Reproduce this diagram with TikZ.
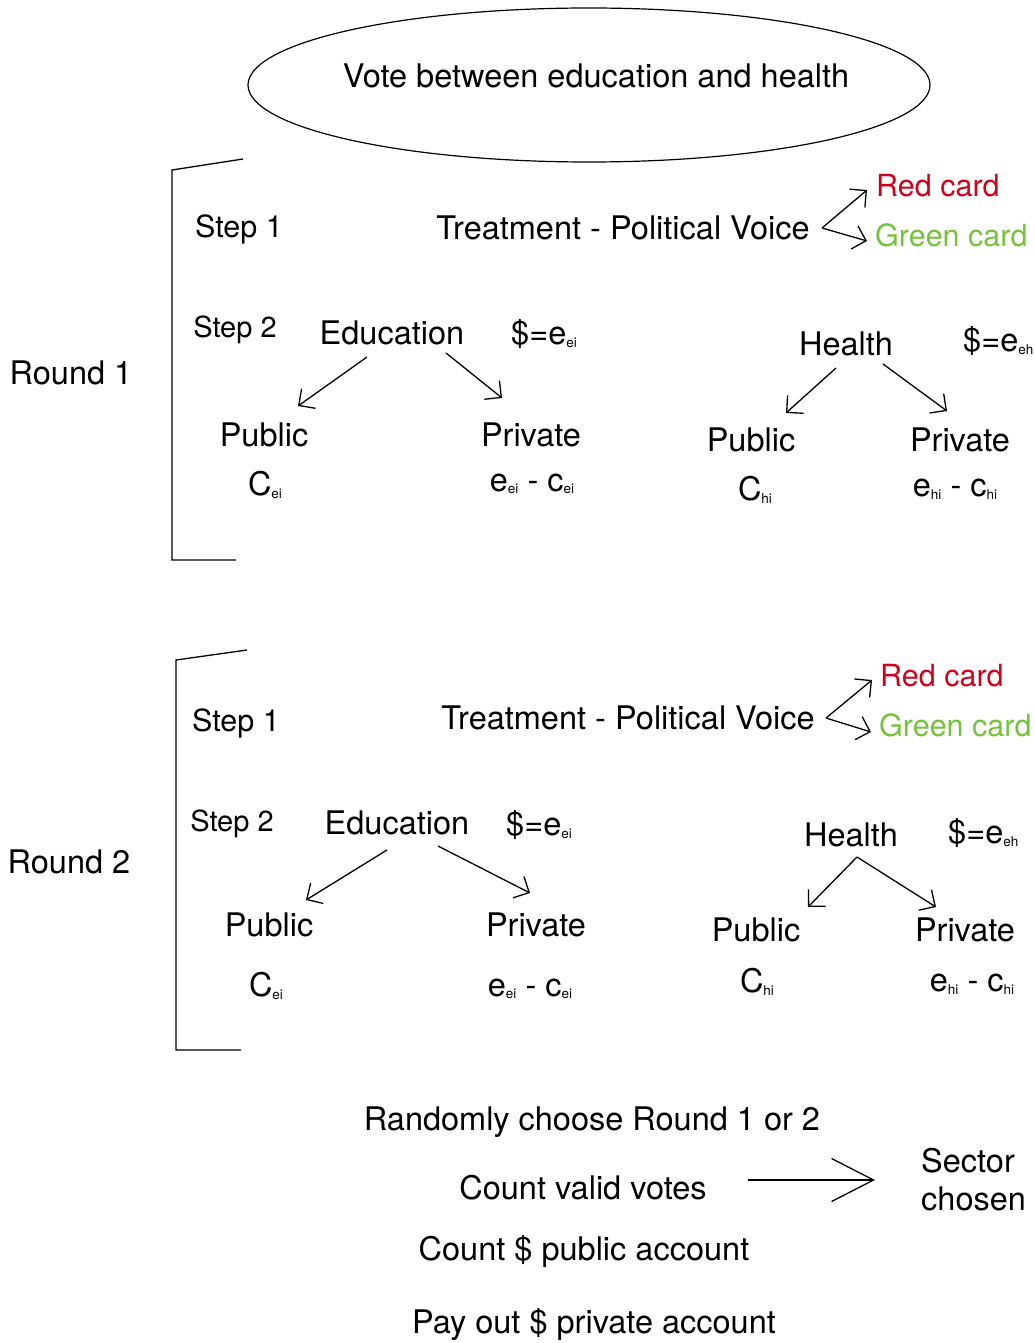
\documentclass[tikz,border=0pt]{standalone}
\usepackage{fontspec}
\setmainfont{TeX Gyre Heros}
\usetikzlibrary{arrows.meta,shapes.geometric}
\definecolor{cred}{RGB}{208,2,27}
\definecolor{cgreen}{RGB}{117,194,60}
\newcommand{\sbx}[1]{\raisebox{-0.08em}{\fontsize{13.5}{13.5}\selectfont #1}}
\begin{document}
\begin{tikzpicture}[x=1pt,y=-1pt,
  txt/.style={font=\fontsize{32.5}{38}\selectfont, inner sep=0pt},
  card/.style={font=\fontsize{30.5}{36}\selectfont, inner sep=0pt, anchor=west},
  stepa/.style={font=\fontsize{30.5}{34}\selectfont, inner sep=0pt},
  stepb/.style={font=\fontsize{29}{33}\selectfont, inner sep=0pt},
  lnk/.style={line width=1.3pt},
  arr/.style={line width=1.3pt, -{Straight Barb[length=12pt,width=24pt]}},
  bigarr/.style={line width=1.3pt, -{Straight Barb[length=42pt,width=43pt]}}]
\useasboundingbox (0,0) rectangle (1035,1343);

% title
\node[draw, ellipse, line width=1.2pt, minimum width=682pt, minimum height=154pt, inner sep=0pt] (vote) at (589,85) {};
\node[txt] (votet) at (596,76) {Vote between education and health};

% ---------- Round 1 ----------
\coordinate (b1a) at (243,159);
\coordinate (b1b) at (172,170);
\coordinate (b1c) at (172,560);
\coordinate (b1d) at (236,560);
\draw[lnk] (b1a) -- (b1b) -- (b1c) -- (b1d);
\node[txt] (r1) at (71,373) {Round 1};
\node[stepa] (r1s1) at (239,229) {Step 1};
\node[txt] (r1tr) at (623,228) {Treatment - Political Voice};
\node[card, text=cred] (r1red) at (876,186) {Red card};
\node[card, text=cgreen] (r1green) at (875,235) {Green card};
\coordinate (r1v) at (822,228);
\coordinate (r1vr) at (867,190);
\coordinate (r1vg) at (867,241);
\draw[arr] (r1v) -- (r1vr);
\draw[arr] (r1v) -- (r1vg);

\node[stepb] (r1s2) at (235,330) {Step 2};
\node[txt] (r1edu) at (392,333) {Education};
\node[txt, anchor=west] (r1ed) at (511,334) {\$=e\sbx{ei}};
\coordinate (r1ea) at (367,357); \coordinate (r1eb) at (298,406);
\coordinate (r1ec) at (446,353); \coordinate (r1ed2) at (502,398);
\draw[arr] (r1ea) -- (r1eb);
\draw[arr] (r1ec) -- (r1ed2);
\node[txt] (r1pub) at (264,435) {Public};
\node[txt] (r1cei) at (265,485) {C\sbx{ei}};
\node[txt] (r1pri) at (531,435) {Private};
\node[txt] (r1ecei) at (532,484) {e\sbx{ei} - c\sbx{ei}};

\node[txt] (r1hea) at (846,344) {Health};
\node[txt, anchor=west] (r1hd) at (963,341) {\$=e\sbx{eh}};
\coordinate (r1ha) at (836,368); \coordinate (r1hb) at (786,413);
\coordinate (r1hc) at (883,364); \coordinate (r1hd2) at (947,411);
\draw[arr] (r1ha) -- (r1hb);
\draw[arr] (r1hc) -- (r1hd2);
\node[txt] (r1hpub) at (751,440) {Public};
\node[txt] (r1chi) at (755,490) {C\sbx{hi}};
\node[txt] (r1hpri) at (960,440) {Private};
\node[txt] (r1echi) at (955,489) {e\sbx{hi} - c\sbx{hi}};

% ---------- Round 2 ----------
\coordinate (b2a) at (247,650);
\coordinate (b2b) at (176,660);
\coordinate (b2c) at (176,1050);
\coordinate (b2d) at (241,1050);
\draw[lnk] (b2a) -- (b2b) -- (b2c) -- (b2d);
\node[txt] (r2) at (69,862) {Round 2};
\node[stepa] (r2s1) at (236,723) {Step 1};
\node[txt] (r2tr) at (628,718) {Treatment - Political Voice};
\node[card, text=cred] (r2red) at (880,676) {Red card};
\node[card, text=cgreen] (r2green) at (879,725) {Green card};
\coordinate (r2v) at (826,718);
\coordinate (r2vr) at (872,680);
\coordinate (r2vg) at (871,732);
\draw[arr] (r2v) -- (r2vr);
\draw[arr] (r2v) -- (r2vg);

\node[stepb] (r2s2) at (232,824) {Step 2};
\node[txt] (r2edu) at (397,823) {Education};
\node[txt, anchor=west] (r2ed) at (506,825) {\$=e\sbx{ei}};
\coordinate (r2ea) at (387,850); \coordinate (r2eb) at (306,900);
\coordinate (r2ec) at (438,846); \coordinate (r2ed2) at (530,893);
\draw[arr] (r2ea) -- (r2eb);
\draw[arr] (r2ec) -- (r2ed2);
\node[txt] (r2pub) at (269,925) {Public};
\node[txt] (r2cei) at (266,986) {C\sbx{ei}};
\node[txt] (r2pri) at (536,925) {Private};
\node[txt] (r2ecei) at (530,989) {e\sbx{ei} - c\sbx{ei}};

\node[txt] (r2hea) at (851,835) {Health};
\node[txt, anchor=west] (r2hd) at (948,833) {\$=e\sbx{eh}};
\coordinate (r2hx) at (857,857);
\coordinate (r2hb) at (808,907);
\coordinate (r2hc) at (936,907);
\draw[arr] (r2hx) -- (r2hb);
\draw[arr] (r2hx) -- (r2hc);
\node[txt] (r2hpub) at (756,930) {Public};
\node[txt] (r2chi) at (757,982) {C\sbx{hi}};
\node[txt] (r2hpri) at (965,930) {Private};
\node[txt] (r2echi) at (972,984) {e\sbx{hi} - c\sbx{hi}};

% ---------- Bottom ----------
\node[txt] (rand) at (592,1122) {Randomly choose Round 1 or 2};
\node[txt] (count) at (583,1188) {Count valid votes};
\node[txt] (pubacc) at (584,1252) {Count \$ public account};
\node[txt] (payout) at (594,1325) {Pay out \$ private account};
\node[txt, anchor=west, align=left] (sector) at (921,1180) {Sector\\chosen};
\coordinate (ba) at (748,1180);
\draw[bigarr, shorten >=46pt] (ba) -- (sector.west);
\end{tikzpicture}
\end{document}
